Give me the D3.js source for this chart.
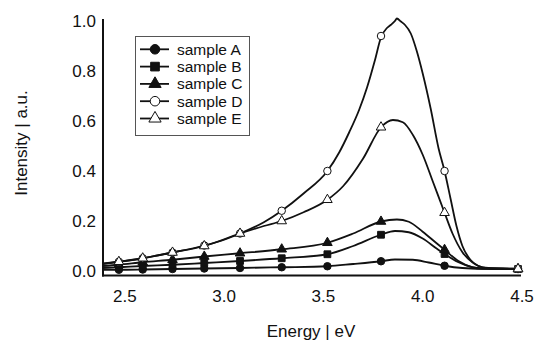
<!DOCTYPE html>
<html>
<head>
<meta charset="utf-8">
<script src="https://cdn.jsdelivr.net/npm/d3@7"></script>
<style>
  html, body { margin: 0; padding: 0; background: #fff; }
  svg { display: block; }
  text { font-family: "Liberation Sans", Arial, sans-serif; fill: #111; }
</style>
</head>
<body>
<svg id="chart" width="534" height="342"></svg>
<script>
// ---- data ----
const xTicks = [2.5, 3.0, 3.5, 4.0, 4.5];
const yTicks = [0.0, 0.2, 0.4, 0.6, 0.8, 1.0];
const sampleNames = ["sample A", "sample B", "sample C", "sample D", "sample E"];
const markerEnergies = [2.47, 2.59, 2.74, 2.90, 3.08, 3.29, 3.52, 3.79, 4.11, 4.48];

// continuous spectra (energy / intensity pairs)
const curveA = [[2.39,0.005],[2.47,0.005],[2.59,0.006],[2.74,0.008],[2.90,0.010],[3.08,0.012],[3.29,0.015],[3.52,0.019],[3.65,0.028],[3.79,0.039],[3.86,0.046],[3.95,0.045],[4.03,0.034],[4.11,0.021],[4.20,0.012],[4.30,0.009],[4.50,0.008]];
const curveB = [[2.39,0.012],[2.47,0.015],[2.59,0.020],[2.74,0.025],[2.90,0.032],[3.08,0.040],[3.29,0.051],[3.52,0.067],[3.65,0.100],[3.79,0.145],[3.86,0.160],[3.93,0.155],[4.00,0.130],[4.07,0.090],[4.11,0.068],[4.18,0.035],[4.25,0.015],[4.30,0.010],[4.50,0.008]];
const curveC = [[2.39,0.020],[2.47,0.025],[2.59,0.035],[2.74,0.045],[2.90,0.058],[3.08,0.071],[3.29,0.087],[3.52,0.113],[3.65,0.150],[3.79,0.198],[3.87,0.206],[3.93,0.197],[4.00,0.157],[4.07,0.111],[4.11,0.085],[4.18,0.040],[4.25,0.015],[4.30,0.010],[4.50,0.008]];
const curveD = [[2.39,0.030],[2.47,0.037],[2.59,0.051],[2.74,0.074],[2.90,0.102],[3.00,0.125],[3.08,0.150],[3.20,0.195],[3.29,0.241],[3.40,0.310],[3.52,0.400],[3.58,0.475],[3.63,0.555],[3.68,0.645],[3.72,0.735],[3.76,0.845],[3.79,0.935],[3.82,0.972],[3.84,0.985],[3.86,1.000],[3.87,1.010],[3.89,0.998],[3.91,0.985],[3.94,0.950],[3.97,0.880],[4.00,0.790],[4.04,0.650],[4.08,0.490],[4.11,0.400],[4.14,0.290],[4.17,0.180],[4.20,0.100],[4.24,0.045],[4.28,0.020],[4.33,0.012],[4.40,0.010],[4.50,0.009]];
const curveE = [[2.39,0.028],[2.47,0.037],[2.59,0.051],[2.74,0.074],[2.90,0.100],[3.08,0.150],[3.20,0.180],[3.29,0.200],[3.40,0.235],[3.52,0.285],[3.60,0.340],[3.70,0.450],[3.79,0.575],[3.85,0.604],[3.90,0.595],[3.95,0.545],[4.00,0.465],[4.05,0.360],[4.11,0.233],[4.15,0.150],[4.20,0.075],[4.25,0.035],[4.30,0.015],[4.35,0.010],[4.50,0.009]];

// marker values at markerEnergies
const markA = [0.005, 0.006, 0.008, 0.010, 0.012, 0.015, 0.019, 0.039, 0.021, 0.008];
const markB = [0.015, 0.020, 0.025, 0.032, 0.040, 0.051, 0.067, 0.145, 0.068, 0.008];
const markC = [0.025, 0.035, 0.045, 0.058, 0.071, 0.087, 0.113, 0.198, 0.085, 0.008];
const markD = [0.037, 0.051, 0.074, 0.102, 0.150, 0.241, 0.400, 0.940, 0.400, 0.008];
const markE = [0.037, 0.051, 0.074, 0.100, 0.150, 0.200, 0.285, 0.575, 0.233, 0.008];

const curves = [curveA, curveB, curveC, curveD, curveE];
const marks = [markA, markB, markC, markD, markE];
const symbolTypes = [d3.symbolCircle, d3.symbolSquare, d3.symbolTriangle, d3.symbolCircle, d3.symbolTriangle];
const filled = [true, true, true, false, false];

// ---- layout ----
const svg = d3.select("#chart");
const x = d3.scaleLinear().domain([2.39, 4.5]).range([103, 522]);
const y = d3.scaleLinear().domain([0, 1]).range([271, 21]);
const axisY0 = 275.5;

// axes lines
svg.append("line").attr("x1", 103).attr("x2", 103).attr("y1", 19).attr("y2", axisY0 + 1)
  .attr("stroke", "#111").attr("stroke-width", 2);
svg.append("line").attr("x1", 102).attr("x2", 521).attr("y1", axisY0).attr("y2", axisY0)
  .attr("stroke", "#111").attr("stroke-width", 2);

// tick labels
svg.append("g").selectAll("text").data(yTicks).join("text")
  .attr("x", 96).attr("y", d => y(d) + 6)
  .attr("text-anchor", "end").attr("font-size", 17)
  .text(d => d.toFixed(1));
svg.append("g").selectAll("text").data(xTicks).join("text")
  .attr("x", d => x(d)).attr("y", 301.5)
  .attr("text-anchor", "middle").attr("font-size", 17)
  .text(d => d.toFixed(1));

// axis titles
svg.append("text").attr("x", 311).attr("y", 337).attr("text-anchor", "middle")
  .attr("font-size", 17).text("Energy | eV");
svg.append("text").attr("transform", "translate(26.5,143) rotate(-90)")
  .attr("text-anchor", "middle").attr("font-size", 17).text("Intensity | a.u.");

// curves
const line = d3.line().x(d => x(d[0])).y(d => y(d[1])).curve(d3.curveMonotoneX);
curves.forEach(c => {
  svg.append("path").attr("d", line(c)).attr("fill", "none")
    .attr("stroke", "#111").attr("stroke-width", 1.8).attr("stroke-linejoin", "round");
});

// markers
function symSize(i, big) {
  const base = big ? 1.25 : 1;
  if (symbolTypes[i] === d3.symbolCircle) return 44 * base;
  if (symbolTypes[i] === d3.symbolSquare) return 46 * base;
  return 40 * base;
}
marks.forEach((m, i) => {
  svg.append("g").selectAll("path").data(m).join("path")
    .attr("transform", (d, j) => `translate(${x(markerEnergies[j])},${y(d)})`)
    .attr("d", d3.symbol().type(symbolTypes[i]).size(symSize(i, false)))
    .attr("fill", filled[i] ? "#111" : "#fff")
    .attr("stroke", "#111").attr("stroke-width", 1);
});

// legend
const lg = svg.append("g");
lg.append("rect").attr("x", 135.5).attr("y", 36.5).attr("width", 114).attr("height", 99)
  .attr("fill", "#fff").attr("stroke", "#555").attr("stroke-width", 1);
sampleNames.forEach((name, i) => {
  const cy = 49.3 + i * 17.3;
  lg.append("line").attr("x1", 140).attr("x2", 169).attr("y1", cy).attr("y2", cy)
    .attr("stroke", "#111").attr("stroke-width", 1.8);
  lg.append("path").attr("transform", `translate(155,${cy})`)
    .attr("d", d3.symbol().type(symbolTypes[i]).size(symSize(i, true) * 1.3))
    .attr("fill", filled[i] ? "#111" : "#fff").attr("stroke", "#111").attr("stroke-width", 1);
  lg.append("text").attr("x", 177).attr("y", cy + 5.3).attr("font-size", 15.5).text(name);
});
</script>
</body>
</html>
